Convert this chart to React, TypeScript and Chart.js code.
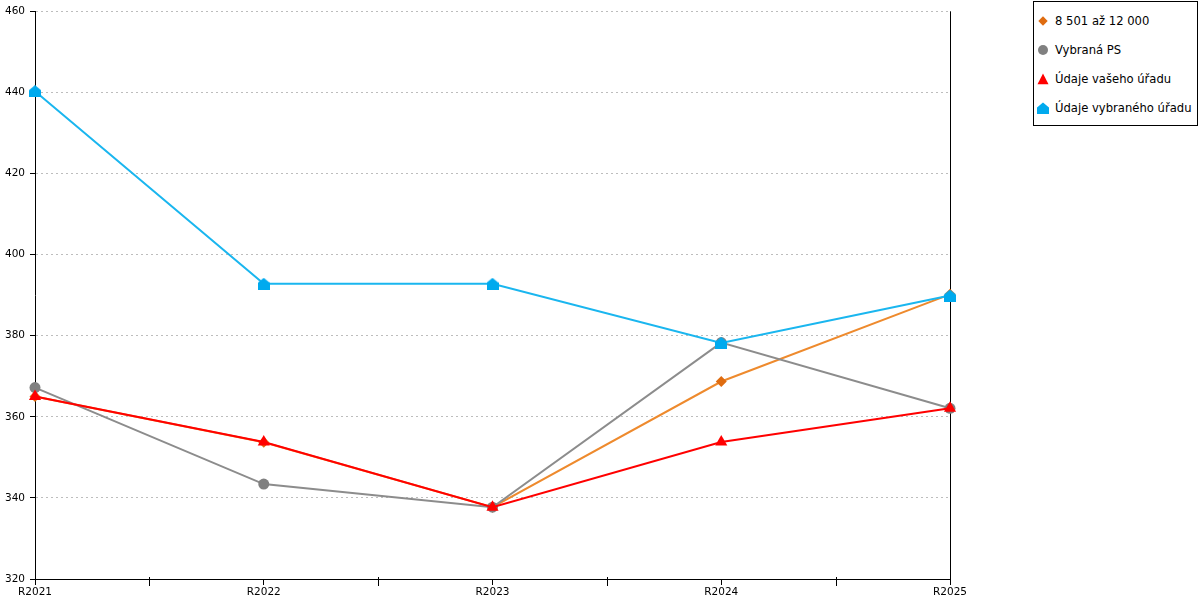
import React, { useEffect, useRef } from 'react';
import { Chart, registerables } from 'chart.js';

Chart.register(...registerables);

const categories = ['R2021', 'R2022', 'R2023', 'R2024', 'R2025'];
const seriesNames = ['8 501 až 12 000', 'Vybraná PS', 'Údaje vašeho úřadu', 'Údaje vybraného úřadu'];
const bandValues = [365.0, 353.7, 337.7, 368.7, 390.2];
const selectedPsValues = [367.2, 343.4, 337.7, 378.3, 362.1];
const yourOfficeValues = [365.0, 353.8, 337.7, 353.8, 362.1];
const selectedOfficeValues = [440.3, 392.8, 392.8, 378.2, 389.9];
const yMin = 320;
const yMax = 460;
const yStep = 20;

const ORANGE_LINE = '#ee8a2d';
const ORANGE_PT = '#df6c10';
const GRAY_LINE = '#8c8c8c';
const GRAY_PT = '#808080';
const RED = '#ff0000';
const BLUE_LINE = '#1ab6ef';
const BLUE_PT = '#00aaee';

const AXIS_FONT = '"DejaVu Sans", sans-serif';
const LEGEND_FONT = '"DejaVu Sans", sans-serif';

function makeHouse(color: string): HTMLCanvasElement {
  const w = 12;
  const h = 12;
  const c = document.createElement('canvas');
  c.width = w;
  c.height = h;
  const ctx = c.getContext('2d')!;
  ctx.fillStyle = color;
  ctx.beginPath();
  ctx.moveTo(w / 2, 0);
  ctx.lineTo(w, 5);
  ctx.lineTo(w, h);
  ctx.lineTo(0, h);
  ctx.lineTo(0, 5);
  ctx.closePath();
  ctx.fill();
  return c;
}

const extrasPlugin = {
  id: 'extras',
  beforeDatasetsDraw(chart: any) {
    const { ctx, chartArea } = chart;
    const x = chart.scales.x;
    ctx.save();
    ctx.strokeStyle = '#000';
    ctx.lineWidth = 1;
    ctx.beginPath();
    const rx = Math.round(chartArea.right) + 0.5;
    ctx.moveTo(rx, chartArea.top);
    ctx.lineTo(rx, chartArea.bottom);
    for (let i = 0; i < categories.length - 1; i++) {
      const mx = Math.round((x.getPixelForValue(i) + x.getPixelForValue(i + 1)) / 2) + 0.5;
      ctx.moveTo(mx, chartArea.bottom - 2);
      ctx.lineTo(mx, chartArea.bottom + 7);
    }
    ctx.stroke();
    ctx.restore();
  },
};

function LegendMarker({ kind }: { kind: number }) {
  return (
    <svg width={12} height={12} style={{ display: 'block', flex: '0 0 auto' }}>
      {kind === 0 && <polygon points="6,1.3 10.7,6 6,10.7 1.3,6" fill={ORANGE_PT} />}
      {kind === 1 && <circle cx={6} cy={6} r={5} fill={GRAY_PT} />}
      {kind === 2 && <polygon points="6,0.6 11.5,11.3 0.5,11.3" fill={RED} />}
      {kind === 3 && <polygon points="6,0.5 12,5.5 12,12 0,12 0,5.5" fill={BLUE_PT} />}
    </svg>
  );
}

export default function App() {
  const canvasRef = useRef<HTMLCanvasElement | null>(null);

  useEffect(() => {
    if (!canvasRef.current) return;
    const house = makeHouse(BLUE_PT);
    const chart = new Chart(canvasRef.current, {
      type: 'line',
      data: {
        labels: categories,
        datasets: [
          {
            label: seriesNames[0],
            data: bandValues,
            borderColor: ORANGE_LINE,
            backgroundColor: ORANGE_PT,
            pointBackgroundColor: ORANGE_PT,
            pointBorderColor: ORANGE_PT,
            pointStyle: 'rectRot',
            pointRadius: 5.5,
            pointBorderWidth: 0,
            borderWidth: 2,
            tension: 0,
            order: 4,
            clip: false,
          } as any,
          {
            label: seriesNames[1],
            data: selectedPsValues,
            borderColor: GRAY_LINE,
            backgroundColor: GRAY_PT,
            pointBackgroundColor: GRAY_PT,
            pointBorderColor: GRAY_PT,
            pointStyle: 'circle',
            pointRadius: 5.5,
            pointBorderWidth: 0,
            borderWidth: 2,
            tension: 0,
            order: 3,
            clip: false,
          } as any,
          {
            label: seriesNames[2],
            data: yourOfficeValues,
            borderColor: RED,
            backgroundColor: RED,
            pointBackgroundColor: RED,
            pointBorderColor: RED,
            pointStyle: 'triangle',
            pointRadius: 7,
            pointBorderWidth: 0,
            borderWidth: 2,
            tension: 0,
            order: 2,
            clip: false,
          } as any,
          {
            label: seriesNames[3],
            data: selectedOfficeValues,
            borderColor: BLUE_LINE,
            backgroundColor: BLUE_PT,
            pointStyle: house,
            pointRadius: 6,
            borderWidth: 2,
            tension: 0,
            order: 1,
            clip: false,
          } as any,
        ],
      },
      options: {
        responsive: false,
        animation: false,
        layout: { padding: { left: 0, top: 10, right: 250, bottom: 0 } },
        plugins: {
          legend: { display: false },
          tooltip: { enabled: false },
        },
        scales: {
          x: {
            type: 'category',
            offset: false,
            grid: {
              display: true,
              drawOnChartArea: false,
              drawTicks: true,
              tickLength: 6,
              tickColor: '#000',
              color: '#000',
            },
            border: { display: true, color: '#000', width: 1 },
            ticks: {
              color: '#000',
              font: { family: AXIS_FONT, size: 10.5 },
              padding: 1,
              maxRotation: 0,
              autoSkip: false,
            },
            afterFit: (s: any) => {
              s.height = 21;
            },
          },
          y: {
            min: yMin,
            max: yMax,
            ticks: {
              stepSize: yStep,
              color: '#000',
              font: { family: AXIS_FONT, size: 10.5 },
              padding: 5,
            },
            grid: {
              color: '#bdbdbd',
              tickColor: '#000',
              tickLength: 5,
              lineWidth: 1,
              tickBorderDash: [],
            },
            border: { display: true, color: '#000', width: 1, dash: [2, 3] },
            afterFit: (s: any) => {
              s.width = 35;
            },
          },
        },
      } as any,
      plugins: [extrasPlugin],
    });
    return () => chart.destroy();
  }, []);

  return (
    <div style={{ position: 'absolute', left: 0, top: 0, width: 1200, height: 600, background: '#fff' }}>
      <canvas ref={canvasRef} width={1200} height={600} style={{ display: 'block', width: 1200, height: 600 }} />
      <div
        style={{
          position: 'absolute',
          left: 1033,
          top: 1,
          width: 165,
          height: 125,
          border: '1px solid #000',
          boxSizing: 'border-box',
          background: '#fff',
          fontFamily: LEGEND_FONT,
          fontSize: 11.6,
          color: '#000',
        }}
      >
        {seriesNames.map((name, i) => (
          <div
            key={name}
            style={{
              position: 'absolute',
              left: 3,
              top: 10.5 + i * 29,
              height: 16,
              display: 'flex',
              alignItems: 'center',
              whiteSpace: 'nowrap',
            }}
          >
            <LegendMarker kind={i} />
            <span style={{ marginLeft: 6, lineHeight: '16px' }}>{name}</span>
          </div>
        ))}
      </div>
    </div>
  );
}
